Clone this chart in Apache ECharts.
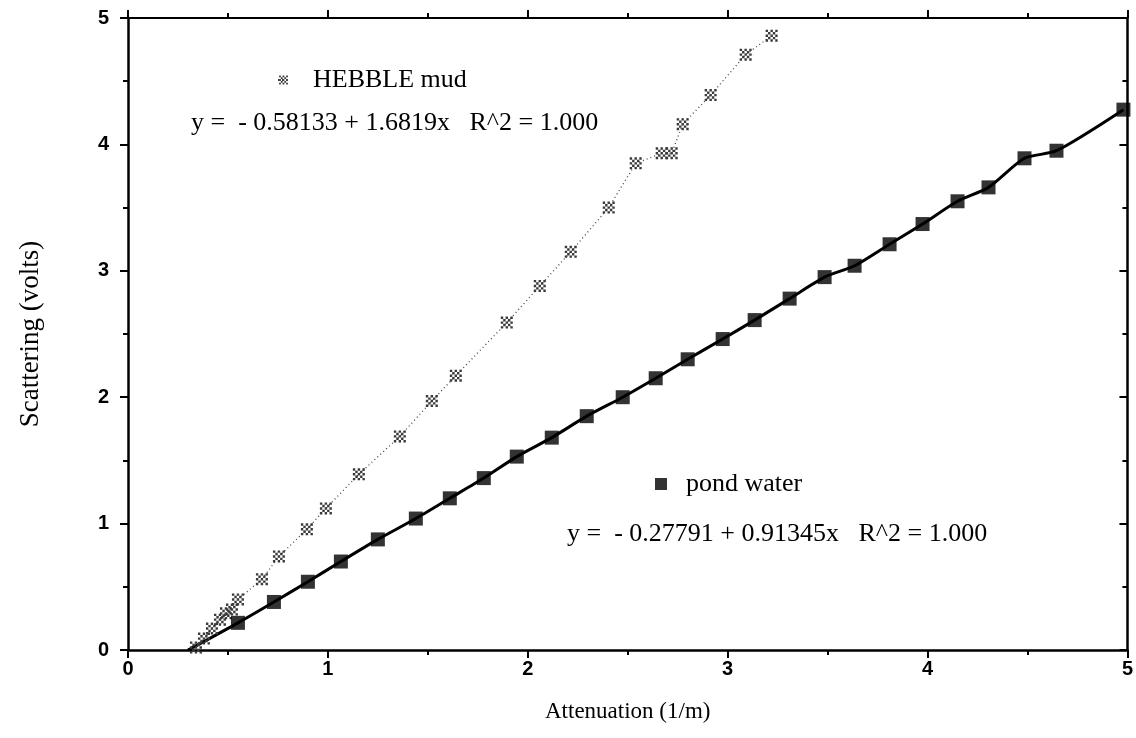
<!DOCTYPE html>
<html>
<head>
<meta charset="utf-8">
<script src="https://cdn.jsdelivr.net/npm/echarts@6/dist/echarts.min.js"></script>
<style>
html,body{margin:0;padding:0;background:#fff;}
#chart{width:1136px;height:738px;}
</style>
</head>
<body>
<div id="chart"></div>
<script>
// ---- data ----
const xTicks = [0, 1, 2, 3, 4, 5];
const yTicks = [0, 1, 2, 3, 4, 5];

const hebbleX = [0.34, 0.38, 0.42, 0.46, 0.49, 0.52, 0.55, 0.67, 0.755, 0.895, 0.99, 1.155, 1.36, 1.52, 1.64, 1.895, 2.06, 2.215, 2.405, 2.54, 2.67, 2.72, 2.775, 2.915, 3.09, 3.22];
const hebbleY = [0.02, 0.09, 0.17, 0.24, 0.29, 0.32, 0.40, 0.56, 0.74, 0.955, 1.12, 1.39, 1.69, 1.97, 2.17, 2.59, 2.88, 3.15, 3.50, 3.85, 3.93, 3.93, 4.16, 4.39, 4.71, 4.86];

const pondLeadX = [0.30, 0.36];
const pondLeadY = [0.00, 0.05];
const pondX = [0.55, 0.73, 0.90, 1.065, 1.25, 1.44, 1.61, 1.78, 1.945, 2.12, 2.295, 2.475, 2.64, 2.80, 2.975, 3.135, 3.31, 3.485, 3.635, 3.81, 3.975, 4.15, 4.305, 4.485, 4.645, 4.98];
const pondY = [0.215, 0.38, 0.54, 0.70, 0.875, 1.04, 1.20, 1.36, 1.53, 1.68, 1.85, 2.00, 2.15, 2.30, 2.46, 2.61, 2.78, 2.95, 3.04, 3.21, 3.37, 3.55, 3.66, 3.89, 3.95, 4.275];

const hebbleName = 'HEBBLE mud';
const pondName = 'pond water';
const hebbleEq = 'y =  - 0.58133 + 1.6819x   R^2 = 1.000';
const pondEq = 'y =  - 0.27791 + 0.91345x   R^2 = 1.000';
const xTitle = 'Attenuation (1/m)';
const yTitle = 'Scattering (volts)';

// ---- build ----
const zip = (xs, ys) => xs.map((x, i) => [x, ys[i]]);
const hebbleData = zip(hebbleX, hebbleY);
const pondMarkers = zip(pondX, pondY);
const pondLine = zip(pondLeadX, pondLeadY).concat(pondMarkers);

const serif = '"Liberation Serif", "DejaVu Serif", serif';
const sans = '"Liberation Sans", Arial, sans-serif';
const hatch = 'path://M0,0h2v2h-2zM4,0h2v2h-2zM8,0h2v2h-2zM2,2h2v2h-2zM6,2h2v2h-2zM0,4h2v2h-2zM4,4h2v2h-2zM8,4h2v2h-2zM2,6h2v2h-2zM6,6h2v2h-2zM0,8h2v2h-2zM4,8h2v2h-2zM8,8h2v2h-2z';

const chart = echarts.init(document.getElementById('chart'), null, {renderer: 'canvas'});
const axisCommon = {
  type: 'value', min: 0, max: 5, interval: 1,
  splitLine: {show: false},
  axisLine: {show: true, onZero: false, lineStyle: {color: '#000', width: 2.5}},
  minorTick: {show: true, splitNumber: 2, length: 5, lineStyle: {color: '#000', width: 2}},
  axisTick: {show: true, length: 8, lineStyle: {color: '#000', width: 2}}
};
chart.setOption({
  animation: false,
  backgroundColor: '#fff',
  grid: {left: 128, right: 8, top: 18, bottom: 88},
  xAxis: [
    Object.assign({}, axisCommon, {
      position: 'bottom',
      name: xTitle, nameLocation: 'middle', nameGap: 50,
      nameTextStyle: {fontFamily: sans === '' ? serif : serif, fontSize: 23, color: '#000'},
      axisLabel: {fontFamily: sans, fontSize: 20, fontWeight: 'bold', color: '#000', margin: 9, formatter: v => (xTicks.indexOf(v) >= 0 ? String(v) : '')}
    }),
    Object.assign({}, axisCommon, {
      position: 'top',
      axisLine: {show: true, onZero: false, lineStyle: {color: '#000', width: 2}},
      axisLabel: {show: false}
    })
  ],
  yAxis: [
    Object.assign({}, axisCommon, {
      position: 'left',
      name: yTitle, nameLocation: 'middle', nameGap: 84, nameRotate: 90,
      nameTextStyle: {fontFamily: serif, fontSize: 27, color: '#000'},
      axisLabel: {fontFamily: sans, fontSize: 20, fontWeight: 'bold', color: '#000', margin: 19, formatter: v => (yTicks.indexOf(v) >= 0 ? String(v) : '')}
    }),
    Object.assign({}, axisCommon, {
      position: 'right',
      axisLine: {show: true, onZero: false, lineStyle: {color: '#000', width: 2.5}},
      axisTick: {show: true, inside: true, length: 8, lineStyle: {color: '#000', width: 2}},
      minorTick: {show: true, splitNumber: 2, length: 5, lineStyle: {color: '#000', width: 2}},
      axisLabel: {show: false}
    })
  ],
  legend: [
    {
      data: [hebbleName], left: 272, top: 62, itemWidth: 11, itemHeight: 11,
      textStyle: {fontFamily: serif, fontSize: 26, color: '#000', padding: [0, 0, 0, 19]}
    },
    {
      data: [pondName], left: 650, top: 466, itemWidth: 12, itemHeight: 12,
      textStyle: {fontFamily: serif, fontSize: 26, color: '#000', padding: [0, 0, 0, 14]}
    }
  ],
  graphic: [
    {type: 'text', left: 191, top: 110, style: {text: hebbleEq, font: '26px ' + serif, fill: '#000'}},
    {type: 'text', left: 567, top: 521, style: {text: pondEq, font: '26px ' + serif, fill: '#000'}}
  ],
  series: [
    {
      name: hebbleName, type: 'line', xAxisIndex: 0, yAxisIndex: 0,
      data: hebbleData,
      symbol: hatch, symbolSize: 12,
      itemStyle: {color: '#3a3a3a'},
      lineStyle: {color: '#444', width: 1.3, type: [1, 3]},
      z: 3
    },
    {
      name: pondName + '_line', type: 'line', xAxisIndex: 0, yAxisIndex: 0,
      data: pondLine, showSymbol: false, smooth: 0.25,
      lineStyle: {color: '#000', width: 3},
      z: 2
    },
    {
      name: pondName, type: 'scatter', xAxisIndex: 0, yAxisIndex: 0,
      data: pondMarkers, symbol: 'rect', symbolSize: 14,
      itemStyle: {color: '#000'},
      z: 4
    }
  ]
});
</script>
</body>
</html>
